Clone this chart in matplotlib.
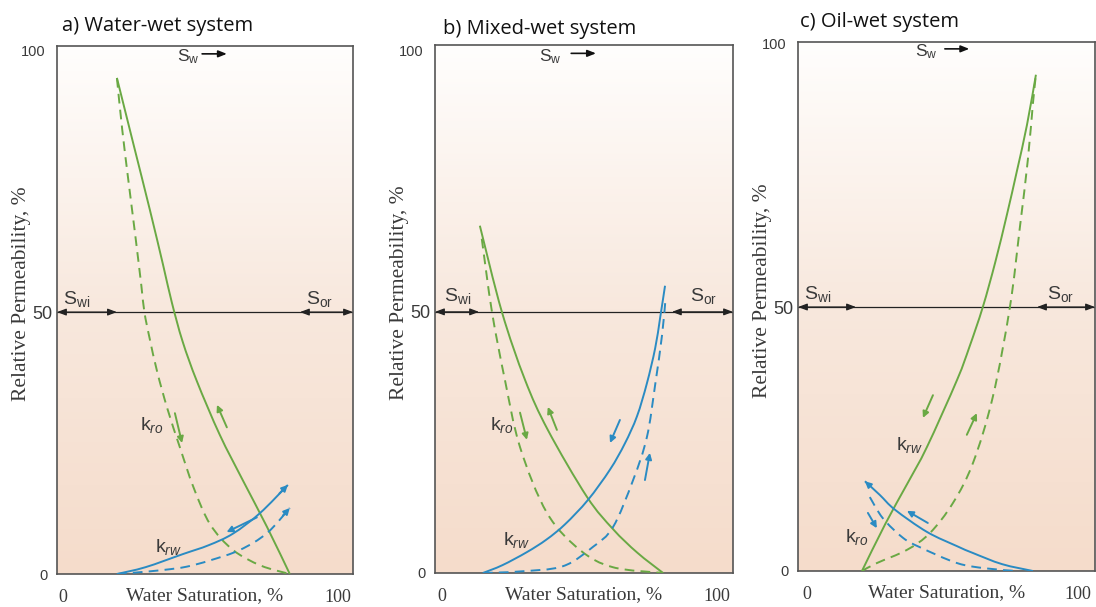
import numpy as np
import matplotlib
matplotlib.use("Agg")
import matplotlib.pyplot as plt
from matplotlib.colors import LinearSegmentedColormap
from matplotlib.path import Path
from matplotlib.patches import PathPatch

plt.rcParams['mathtext.fontset'] = 'custom'
plt.rcParams['mathtext.rm'] = 'Liberation Sans'
plt.rcParams['mathtext.it'] = 'Liberation Sans:italic'

GREEN = '#6aa944'
BLUE = '#2a8bc3'
TXT = '#3a3a3a'

# ---- a) water-wet ----
a_kro_imb_x = [19.6, 25.5, 31.6, 36.4, 39.6, 43.5, 48.7, 57.0, 65.5, 74.2, 82.5]
a_kro_imb_y = [94.7, 82.3, 69.5, 59.0, 51.8, 44.4, 36.8, 26.6, 17.8, 9.0, 0.0]
a_kro_dr_x = [19.6, 21.5, 23.8, 26.2, 28.5, 29.6, 31.5, 34.3, 38.0, 42.5, 47.5, 53.5, 61.8, 72.0, 82.5]
a_kro_dr_y = [94.7, 85.0, 75.0, 65.0, 55.0, 50.0, 45.0, 38.5, 31.5, 24.2, 16.5, 9.5, 4.6, 1.6, 0.0]
a_krw_imb_x = [19.6, 30.0, 43.6, 53.0, 61.8, 71.6, 81.8]
a_krw_imb_y = [0.0, 1.3, 3.8, 5.5, 7.7, 11.6, 17.0]
a_krw_dr_x = [19.6, 27.0, 37.0, 45.0, 53.5, 64.4, 74.2, 82.5]
a_krw_dr_y = [0.0, 0.3, 0.8, 1.4, 2.6, 4.6, 7.8, 12.6]

# ---- b) mixed-wet ----
b_kro_imb_x = [13.8, 21.8, 30.2, 38.5, 52.7, 62.2, 71.0, 80.4]
b_kro_imb_y = [66.5, 50.0, 37.0, 27.4, 14.6, 8.4, 3.9, 0.0]
b_kro_dr_x = [14.5, 18.2, 22.9, 28.4, 38.2, 50.2, 62.2, 80.4]
b_kro_dr_y = [64.0, 50.0, 37.0, 24.1, 11.5, 4.4, 1.1, 0.0]
b_krw_imb_x = [14.9, 22.0, 30.9, 38.0, 44.7, 53.1, 61.1, 66.5, 70.9, 74.5, 77.5, 79.3, 81.1]
b_krw_imb_y = [0.0, 1.5, 4.0, 6.4, 9.3, 14.0, 19.8, 24.8, 30.0, 36.3, 43.0, 48.8, 55.0]
b_krw_dr_x = [14.9, 28.4, 44.0, 54.9, 62.2, 69.5, 74.5, 77.5, 80.0, 81.2]
b_krw_dr_y = [0.0, 0.3, 1.3, 5.0, 8.8, 17.8, 26.0, 36.0, 45.5, 52.0]

# ---- c) oil-wet ----
c_krw_imb_x = [20.3, 29.0, 37.0, 44.3, 55.4, 60.0, 64.9, 69.5, 73.8, 77.5, 81.2, 84.5]
c_krw_imb_y = [0.0, 9.0, 16.5, 23.5, 36.2, 42.5, 50.0, 58.5, 67.5, 75.8, 84.5, 94.0]
c_krw_dr_x = [20.3, 25.8, 36.9, 45.4, 53.9, 61.3, 68.6, 74.9, 78.6, 81.5, 83.4, 84.5]
c_krw_dr_y = [0.0, 1.5, 4.0, 7.2, 12.9, 20.5, 33.0, 50.0, 65.2, 77.8, 88.6, 94.0]
c_kro_imb_x = [21.4, 26.9, 32.5, 44.3, 55.4, 61.3, 72.0, 83.4]
c_kro_imb_y = [17.0, 14.4, 11.6, 7.4, 4.7, 3.4, 1.3, 0.0]
c_kro_dr_x = [23.2, 28.0, 35.4, 41.7, 55.4, 66.0, 77.5]
c_kro_dr_y = [14.0, 10.0, 6.3, 4.5, 1.5, 0.5, 0.0]

titles = ['a) Water-wet system', 'b) Mixed-wet system', 'c) Oil-wet system']
swi = [19.6, 13.5, 18.1]
sor = [86.2, 83.6, 84.9]

W, H = 1096, 607
fig = plt.figure(figsize=(W / 100, H / 100), dpi=100)
fig.patch.set_facecolor('white')

bg = LinearSegmentedColormap.from_list('bg', ['#fffefd', '#f8e8dd', '#f5dccb'])


def panel(l, r, t, b, xlim, ylim):
    ax = fig.add_axes([l / W, 1 - b / H, (r - l) / W, (b - t) / H])
    ax.imshow(np.linspace(0, 1, 256).reshape(-1, 1), cmap=bg, extent=[0, 1, 0, 1],
              transform=ax.transAxes, aspect='auto', zorder=0)
    ax.set_xlim(*xlim)
    ax.set_ylim(*ylim)
    for s in ax.spines.values():
        s.set_color('#555555')
        s.set_linewidth(1.2)
    ax.tick_params(length=0)
    ax.set_xticks([0, 100])
    ax.set_xticklabels(['0', '100'], family='Liberation Serif', fontsize=13, color=TXT)
    ax.tick_params(axis='x', pad=10.5)
    ax.set_yticks([0, 50, 100])
    ax.set_yticklabels(['0', '50', '100'], family='Liberation Sans', color=TXT)
    sizes = [10.5, 13, 10.5]
    pads = [6.5, 3.6, 8.6]
    for lab, sz in zip(ax.get_yticklabels(), sizes):
        lab.set_fontsize(sz)
    for tk, p in zip(ax.yaxis.get_major_ticks(), pads):
        tk.set_pad(p)
    ax.set_xlabel('Water Saturation, %', family='Liberation Serif', fontsize=14, color=TXT)
    ax.xaxis.set_label_coords(0.5, -0.024)
    ax.text(-0.12, 0.53, 'Relative Permeability, %', rotation=90, transform=ax.transAxes,
            ha='center', va='center', family='Liberation Serif', fontsize=15.5, color=TXT)
    return ax


def curve(ax, x, y, color, dashed=False):
    # smooth cubic path running through the read points
    p = np.column_stack([x, y]).astype(float)
    verts = [p[0]]
    codes = [Path.MOVETO]
    n = len(p)
    for i in range(n - 1):
        p0 = p[i - 1] if i > 0 else p[i]
        p1, p2 = p[i], p[i + 1]
        p3 = p[i + 2] if i + 2 < n else p[i + 1]
        verts += [p1 + (p2 - p0) / 6, p2 - (p3 - p1) / 6, p2]
        codes += [Path.CURVE4] * 3
    ls = (0, (5, 3.2)) if dashed else '-'
    ax.add_patch(PathPatch(Path(verts, codes), fill=False, edgecolor=color, lw=1.4,
                           ls=ls, zorder=3, capstyle='butt'))


def arrow(ax, start, end, color, ms=9):
    ax.annotate('', xy=end, xytext=start,
                arrowprops=dict(arrowstyle='-|>', color=color, lw=1.4,
                                mutation_scale=ms, shrinkA=0, shrinkB=0), zorder=4)


def head(ax, x, y, color, at_start=False):
    # arrowhead sitting on the end of a curve
    if at_start:
        arrow(ax, (x[0] + 0.25 * (x[1] - x[0]), y[0] + 0.25 * (y[1] - y[0])), (x[0], y[0]), color)
    else:
        arrow(ax, (x[-1] - 0.3 * (x[-1] - x[-2]), y[-1] - 0.3 * (y[-1] - y[-2])), (x[-1], y[-1]), color)


def levels(ax, i, swx, swy, arr):
    xl = ax.get_xlim()
    ax.plot(xl, [50, 50], color='#222222', lw=0.9, zorder=2)
    style = dict(arrowstyle='<|-|>,head_length=0.45,head_width=0.17', color='#222222',
                 lw=0.9, mutation_scale=12, shrinkA=0, shrinkB=0)
    ax.annotate('', xy=(xl[0], 50), xytext=(swi[i], 50), arrowprops=style, zorder=3)
    ax.annotate('', xy=(sor[i], 50), xytext=(xl[1], 50), arrowprops=style, zorder=3)
    ax.text(swx[0], swy, r'$\mathrm{S}_\mathrm{wi}$', fontsize=14, color=TXT, ha='center', va='center')
    ax.text(swx[1], swy, r'$\mathrm{S}_\mathrm{or}$', fontsize=14, color=TXT, ha='center', va='center')
    ax.text(arr[0], arr[2], r'$\mathrm{S}_\mathrm{w}$', fontsize=12.5, color=TXT, ha='center', va='center')
    ax.annotate('', xy=(arr[1] + 9, arr[2] + 0.6), xytext=(arr[1], arr[2] + 0.6),
                arrowprops=dict(arrowstyle='-|>,head_length=0.5,head_width=0.2', color='#111111',
                                lw=1.2, mutation_scale=10, shrinkA=0, shrinkB=0), zorder=4)


def klabel(ax, x, y, sub):
    ax.text(x, y, r'$\mathrm{k}_{\mathit{' + sub + '}}$', fontsize=14, color=TXT,
            ha='center', va='center', zorder=5)


# a) water-wet
ax = panel(57, 353, 46, 574, (-2.2, 105.5), (0, 100.8))
curve(ax, a_kro_imb_x, a_kro_imb_y, GREEN)
curve(ax, a_kro_dr_x, a_kro_dr_y, GREEN, dashed=True)
curve(ax, a_krw_imb_x, a_krw_imb_y, BLUE)
curve(ax, a_krw_dr_x, a_krw_dr_y, BLUE, dashed=True)
head(ax, a_krw_imb_x, a_krw_imb_y, BLUE)
head(ax, a_krw_dr_x, a_krw_dr_y, BLUE)
arrow(ax, (59.6, 28.0), (56.0, 32.3), GREEN)
arrow(ax, (40.7, 30.7), (43.3, 25.0), GREEN)
arrow(ax, (70.5, 10.8), (59.5, 8.0), BLUE)
klabel(ax, 32.4, 28.4, 'ro')
klabel(ax, 38.2, 5.2, 'rw')
levels(ax, 0, (5.1, 93.5), 52.5, (45.5, 50.6, 98.7))

# b) mixed-wet
ax = panel(435, 733, 45, 573, (-2.5, 105.8), (0, 101.1))
curve(ax, b_kro_imb_x, b_kro_imb_y, GREEN)
curve(ax, b_kro_dr_x, b_kro_dr_y, GREEN, dashed=True)
curve(ax, b_krw_imb_x, b_krw_imb_y, BLUE)
curve(ax, b_krw_dr_x, b_krw_dr_y, BLUE, dashed=True)
arrow(ax, (41.8, 27.4), (38.5, 31.8), GREEN)
arrow(ax, (28.4, 30.7), (30.9, 25.5), GREEN)
arrow(ax, (64.7, 29.3), (61.1, 24.9), BLUE)
arrow(ax, (73.8, 17.8), (75.6, 23.0), BLUE)
klabel(ax, 21.8, 28.4, 'ro')
klabel(ax, 27.3, 6.3, 'rw')
levels(ax, 1, (5.8, 95.0), 53.0, (39.3, 47.0, 98.9))

# c) oil-wet
ax = panel(798, 1095, 42, 571, (-3.3, 106.3), (0, 100.2))
curve(ax, c_krw_imb_x, c_krw_imb_y, GREEN)
curve(ax, c_krw_dr_x, c_krw_dr_y, GREEN, dashed=True)
curve(ax, c_kro_imb_x, c_kro_imb_y, BLUE)
curve(ax, c_kro_dr_x, c_kro_dr_y, BLUE, dashed=True)
head(ax, c_kro_imb_x, c_kro_imb_y, BLUE, at_start=True)
arrow(ax, (46.5, 33.3), (42.8, 29.0), GREEN)
arrow(ax, (59.0, 25.8), (62.7, 29.9), GREEN)
arrow(ax, (22.5, 11.0), (25.8, 8.1), BLUE)
arrow(ax, (44.6, 9.1), (36.9, 11.4), BLUE)
klabel(ax, 38.0, 23.9, 'rw')
klabel(ax, 18.5, 6.4, 'ro')
levels(ax, 2, (4.0, 93.4), 52.5, (44.0, 50.9, 98.3))

# panel titles
for t, (x, y) in zip(titles, [(62, 26), (443, 29), (800, 22)]):
    fig.text(x / W, 1 - y / H, t, family='Open Sans', fontsize=14.5, color='#111111',
             ha='left', va='center')

fig.savefig('out.png', dpi=100)
